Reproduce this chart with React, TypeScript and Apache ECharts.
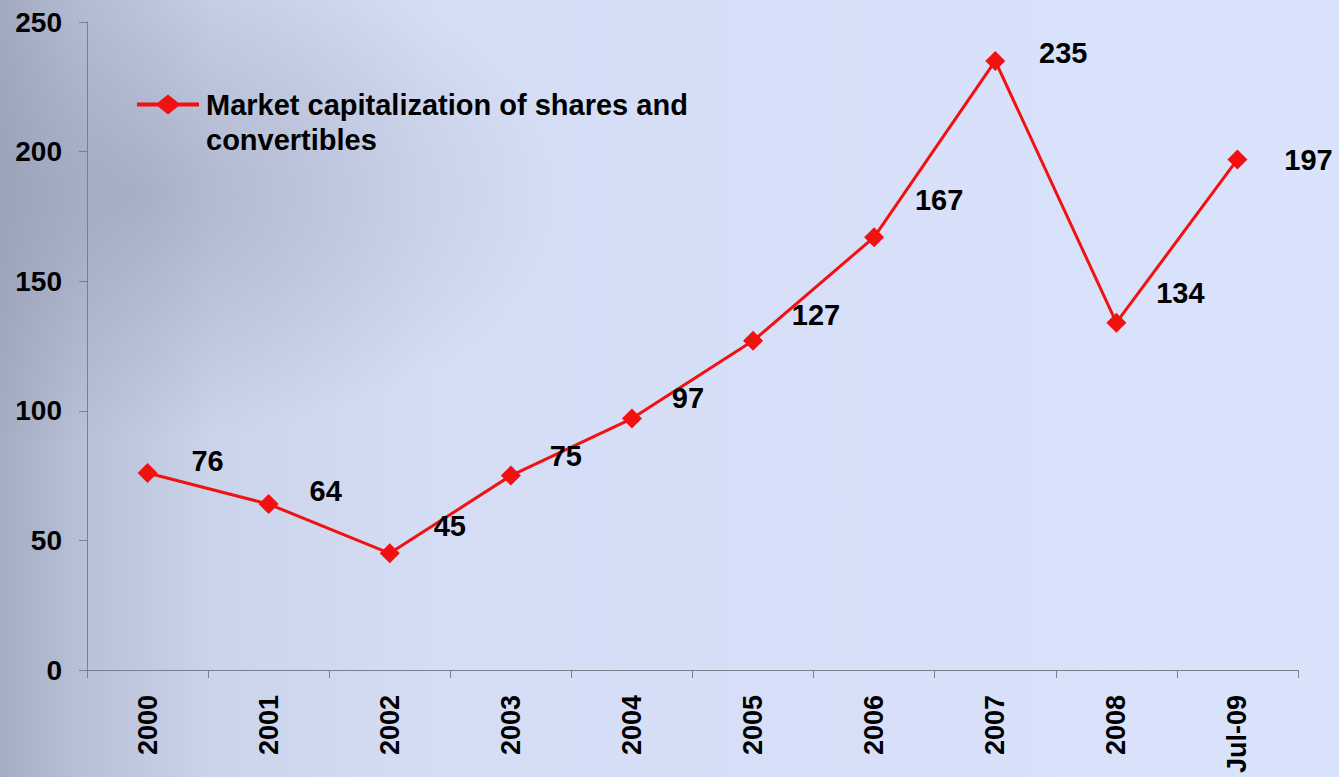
import React, { useEffect, useRef } from "react";
import * as echarts from "echarts";

const categories = ["2000", "2001", "2002", "2003", "2004", "2005", "2006", "2007", "2008", "Jul-09"];
const capitalization = [76, 64, 45, 75, 97, 127, 167, 235, 134, 197];
const seriesName = "Market capitalization of shares and\nconvertibles";
const yTicks = { min: 0, max: 250, interval: 50 };
// label placement nudges (layout only)
const labelOffsets = [
  [60, -12], [57, -13], [60, -27], [55, -20], [56, -21],
  [63, -26], [65, -37], [68, -8], [64, -30], [71, 1],
];

export default function App() {
  const ref = useRef<HTMLDivElement>(null);
  useEffect(() => {
    const chart = echarts.init(ref.current!, null, { renderer: "svg" });
    const font = "'Liberation Sans', Arial, sans-serif";
    chart.setOption({
      animation: false,
      backgroundColor: new echarts.graphic.LinearGradient(0, 0, 1, 0, [
        { offset: 0, color: "#a4acc2" },
        { offset: 0.06, color: "#b8c0d7" },
        { offset: 0.16, color: "#ccd4ec" },
        { offset: 0.32, color: "#d5ddf5" },
        { offset: 1, color: "#d9e3fb" },
      ]),
      graphic: [
        {
          type: "rect",
          z: -10,
          silent: true,
          shape: { x: 0, y: 0, width: 1339, height: 777 },
          style: {
            fill: new echarts.graphic.RadialGradient(0.1, 0.25, 0.32, [
              { offset: 0, color: "rgba(135,142,165,0.45)" },
              { offset: 1, color: "rgba(135,142,165,0)" },
            ]),
          },
        },
      ],
      legend: {
        left: 137,
        top: 52,
        padding: 0,
        itemWidth: 62,
        itemHeight: 20,
        itemGap: 0,
        icon: "path://M0,8 L21,8 L31,0 L41,8 L62,8 L62,12 L41,12 L31,20 L21,12 L0,12 Z",
        formatter: (name: string) => "\n" + name,
        textStyle: {
          fontFamily: font,
          fontWeight: "bold",
          fontSize: 29,
          color: "#000",
          lineHeight: 35,
          padding: [0, 0, 0, 2],
        },
      },
      grid: { left: 87, top: 22, right: 41, bottom: 107 },
      xAxis: {
        type: "category",
        data: categories,
        boundaryGap: true,
        axisLine: { lineStyle: { color: "#7a7f8c", width: 1 } },
        axisTick: { show: true, length: 8, alignWithLabel: false, lineStyle: { color: "#7a7f8c" } },
        axisLabel: {
          rotate: 90,
          margin: 25,
          interval: 0,
          fontFamily: font,
          fontWeight: "bold",
          fontSize: 27,
          color: "#000",
        },
        splitLine: { show: false },
      },
      yAxis: {
        type: "value",
        min: yTicks.min,
        max: yTicks.max,
        interval: yTicks.interval,
        axisLine: { show: true, lineStyle: { color: "#7a7f8c", width: 1 } },
        axisTick: { show: true, length: 8, lineStyle: { color: "#7a7f8c" } },
        axisLabel: {
          margin: 25,
          fontFamily: font,
          fontWeight: "bold",
          fontSize: 28,
          color: "#000",
        },
        splitLine: { show: false },
      },
      series: [
        {
          name: seriesName,
          type: "line",
          data: capitalization.map((v, i) => ({
            value: v,
            label: { offset: labelOffsets[i] },
          })),
          symbol: "diamond",
          symbolSize: 20,
          lineStyle: { color: "#f21010", width: 3 },
          itemStyle: { color: "#f21010" },
          label: {
            show: true,
            position: "inside",
            align: "center",
            verticalAlign: "middle",
            fontFamily: font,
            fontWeight: "bold",
            fontSize: 29,
            color: "#000",
          },
        },
      ],
    });
    return () => chart.dispose();
  }, []);
  return (
    <div
      ref={ref}
      style={{ position: "fixed", left: 0, top: 0, width: 1339, height: 777 }}
    />
  );
}
